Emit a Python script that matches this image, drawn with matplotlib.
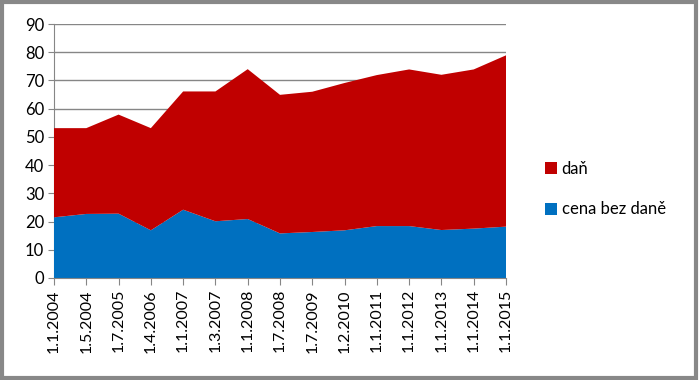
import matplotlib
matplotlib.use('Agg')
import matplotlib.pyplot as plt
from matplotlib.patches import Rectangle
import numpy as np

dates = ['1.1.2004', '1.5.2004', '1.7.2005', '1.4.2006', '1.1.2007', '1.3.2007',
         '1.1.2008', '1.7.2008', '1.7.2009', '1.2.2010', '1.1.2011', '1.1.2012',
         '1.1.2013', '1.1.2014', '1.1.2015']
cena_bez_dane = [21.5, 22.7, 22.8, 16.9, 24.2, 20.1, 20.9, 15.8, 16.3, 16.9,
                 18.4, 18.4, 17.0, 17.5, 18.2]
celkem = [53.1, 53.1, 57.9, 53.1, 66.1, 66.1, 74.0, 64.9, 66.0, 69.1,
          71.9, 73.9, 72.0, 73.9, 78.9]
dan = [c - b for c, b in zip(celkem, cena_bez_dane)]

plt.rcParams['font.family'] = ['Lato', 'DejaVu Sans']

fig = plt.figure(figsize=(6.99, 3.80), dpi=100)
ax = fig.add_axes([54 / 699, 1 - 278 / 380, (506 - 54) / 699, (278 - 24) / 380])

x = np.arange(len(dates))
polys = ax.stackplot(x, cena_bez_dane, dan, colors=['#0070C0', '#C00000'],
                     labels=['cena bez daně', 'daň'], linewidth=0, zorder=3)

ax.set_xlim(0, len(dates) - 1)
ax.set_ylim(0, 90)
ax.set_yticks(range(0, 91, 10))
ax.set_xticks(x)
ax.set_xticklabels(dates, rotation=90, fontsize=11.5)
ax.tick_params(axis='y', labelsize=12, length=4, color='#868686', pad=3)
ax.tick_params(axis='x', length=5, color='#868686', pad=3)
ax.yaxis.grid(True, color='#868686', linewidth=1, zorder=0)
ax.set_axisbelow(True)
for side in ['top', 'right']:
    ax.spines[side].set_visible(False)
for side in ['left', 'bottom']:
    ax.spines[side].set_color('#868686')
ax.spines['bottom'].set_zorder(4)

handles, labels = ax.get_legend_handles_labels()
leg = fig.legend(handles[::-1], labels[::-1], loc='center left',
                 bbox_to_anchor=(530 / 699, 1 - 189 / 380), frameon=False,
                 fontsize=12, handlelength=0.7, handleheight=0.7,
                 labelspacing=1.5, handletextpad=0.3)

fig.patches.append(Rectangle((0.003, 0.004), 0.993, 0.991, transform=fig.transFigure,
                             fill=False, edgecolor='#888888', linewidth=3))

fig.savefig('out.png', dpi=100)
